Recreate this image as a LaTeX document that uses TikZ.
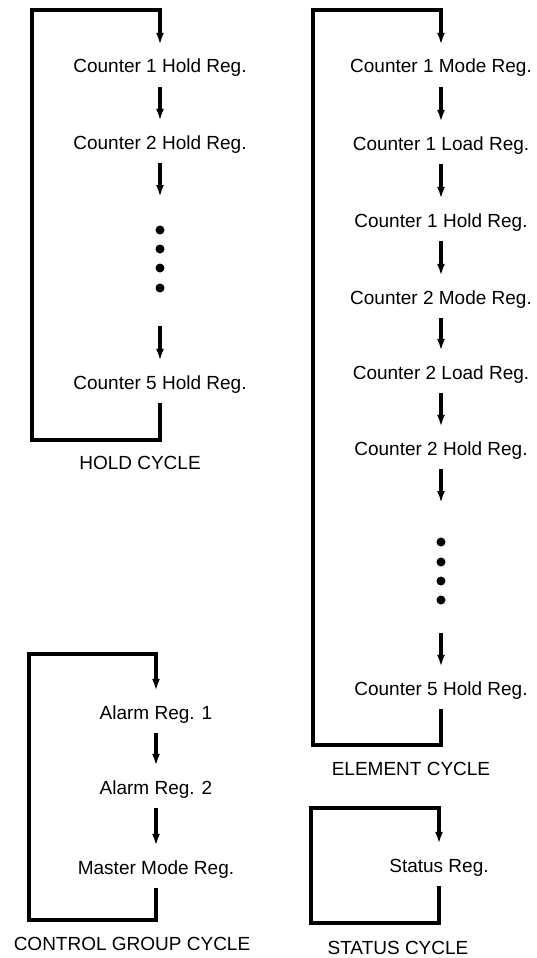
\documentclass[tikz,border=0pt]{standalone}
\usepackage{fontspec}
\setmainfont{Liberation Sans}
\usetikzlibrary{arrows.meta}
\begin{document}
\begin{tikzpicture}[x=1pt,y=-1pt,
  reg/.style={inner sep=0pt, text height=14pt, text depth=0pt, font=\fontsize{19}{22}\selectfont},
  cyclelabel/.style={inner sep=0pt, text height=14pt, text depth=0pt, font=\fontsize{19}{22}\selectfont},
  wire/.style={line width=3.2pt, line join=miter},
  flow/.style={wire, -{Latex[length=12pt,width=8pt]}, shorten >=14pt, shorten <=14pt},
  dot/.style={circle, fill=black, inner sep=0pt, minimum size=9pt}]
\useasboundingbox (0,0) rectangle (536,958);

% ---------------- HOLD CYCLE ----------------
\node[reg] (h1) at (160,66) {Counter 1 Hold Reg.};
\node[reg] (h2) at (160,142) {Counter 2 Hold Reg.};
\coordinate (hd0) at (160,197);
\node[dot] (hd1) at (160,230) {};
\node[dot] (hd2) at (160,249) {};
\node[dot] (hd3) at (160,268) {};
\node[dot] (hd4) at (160,288) {};
\coordinate (hd5) at (160,326);
\node[reg] (h5) at (160,382) {Counter 5 Hold Reg.};
\coordinate (hBR) at (160,440);
\coordinate (hBL) at (32,440);
\coordinate (hTL) at (32,10);
\coordinate (hTR) at (160,10);
\draw[flow] (h1.south) -- (h2.north);
\draw[flow, shorten >=0pt] (h2.south) -- (hd0);
\draw[flow, shorten <=0pt] (hd5) -- (h5.north);
\draw[flow] (h5.south) -- (hBR) -- (hBL) -- (hTL) -- (hTR) -- (h1.north);
\node[cyclelabel] (hl) at (140,462) {HOLD CYCLE};

% ---------------- ELEMENT CYCLE ----------------
\node[reg] (e1) at (441,66) {Counter 1 Mode Reg.};
\node[reg] (e2) at (441,143) {Counter 1 Load Reg.};
\node[reg] (e3) at (441,220) {Counter 1 Hold Reg.};
\node[reg] (e4) at (441,297) {Counter 2 Mode Reg.};
\node[reg] (e5) at (441,372) {Counter 2 Load Reg.};
\node[reg] (e6) at (441,448) {Counter 2 Hold Reg.};
\coordinate (ed0) at (441,503);
\node[dot] (ed1) at (441,542) {};
\node[dot] (ed2) at (441,562) {};
\node[dot] (ed3) at (441,581) {};
\node[dot] (ed4) at (441,600) {};
\coordinate (ed5) at (441,633);
\node[reg] (e7) at (441,688) {Counter 5 Hold Reg.};
\coordinate (eBR) at (441,745);
\coordinate (eBL) at (313,745);
\coordinate (eTL) at (313,10);
\coordinate (eTR) at (441,10);
\draw[flow] (e1.south) -- (e2.north);
\draw[flow] (e2.south) -- (e3.north);
\draw[flow] (e3.south) -- (e4.north);
\draw[flow] (e4.south) -- (e5.north);
\draw[flow] (e5.south) -- (e6.north);
\draw[flow, shorten >=0pt] (e6.south) -- (ed0);
\draw[flow, shorten <=0pt] (ed5) -- (e7.north);
\draw[flow] (e7.south) -- (eBR) -- (eBL) -- (eTL) -- (eTR) -- (e1.north);
\node[cyclelabel] (el) at (411,768) {ELEMENT CYCLE};

% ---------------- CONTROL GROUP CYCLE ----------------
\node[reg] (c1) at (156,712) {Alarm Reg. 1};
\node[reg] (c2) at (156,787) {Alarm Reg. 2};
\node[reg] (c3) at (156,867) {Master Mode Reg.};
\coordinate (cBR) at (156,920);
\coordinate (cBL) at (29,920);
\coordinate (cTL) at (29,654);
\coordinate (cTR) at (156,654);
\draw[flow] (c1.south) -- (c2.north);
\draw[flow] (c2.south) -- (c3.north);
\draw[flow] (c3.south) -- (cBR) -- (cBL) -- (cTL) -- (cTR) -- (c1.north);
\node[cyclelabel] (cl) at (132,943) {CONTROL GROUP CYCLE};

% ---------------- STATUS CYCLE ----------------
\node[reg] (s1) at (439,865) {Status Reg.};
\coordinate (sBR) at (439,923);
\coordinate (sBL) at (311,923);
\coordinate (sTL) at (311,808);
\coordinate (sTR) at (439,808);
\draw[flow] (s1.south) -- (sBR) -- (sBL) -- (sTL) -- (sTR) -- (s1.north);
\node[cyclelabel] (sl) at (398,947) {STATUS CYCLE};
\end{tikzpicture}
\end{document}
